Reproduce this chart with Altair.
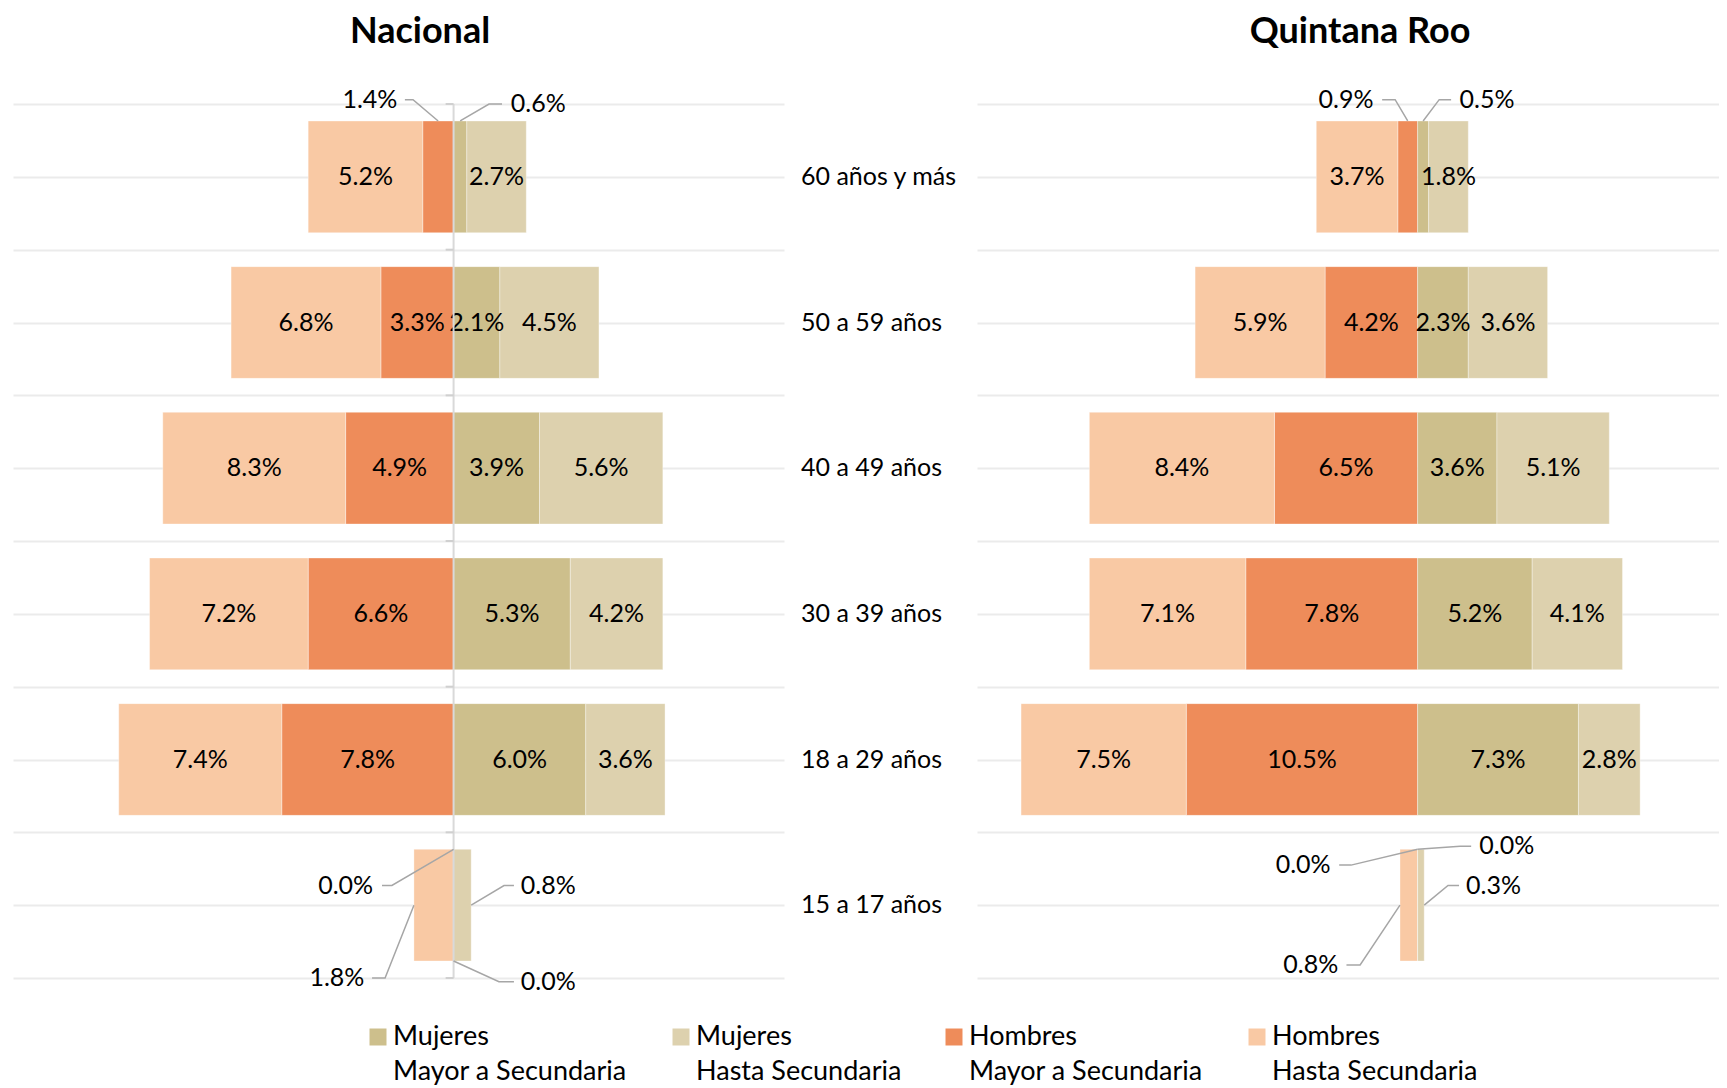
import altair as alt
import pandas as pd

FONT = "Lato"
FS = 25
LFS = 27

ages = ["60 años y más", "50 a 59 años", "40 a 49 años", "30 a 39 años", "18 a 29 años", "15 a 17 años"]
groups = ["Mujeres Mayor a Secundaria", "Mujeres Hasta Secundaria",
          "Hombres Mayor a Secundaria", "Hombres Hasta Secundaria"]
group_line1 = ["Mujeres", "Mujeres", "Hombres", "Hombres"]
group_line2 = ["Mayor a Secundaria", "Hasta Secundaria", "Mayor a Secundaria", "Hasta Secundaria"]
colors = ["#CDBF8C", "#DDD1AE", "#EE8C5A", "#F9C9A4"]

# Nacional (% of population)
nac_h_hasta = [5.2, 6.8, 8.3, 7.2, 7.4, 1.8]
nac_h_mayor = [1.4, 3.3, 4.9, 6.6, 7.8, 0.0]
nac_m_mayor = [0.6, 2.1, 3.9, 5.3, 6.0, 0.0]
nac_m_hasta = [2.7, 4.5, 5.6, 4.2, 3.6, 0.8]

# Quintana Roo (% of population)
qr_h_hasta = [3.7, 5.9, 8.4, 7.1, 7.5, 0.8]
qr_h_mayor = [0.9, 4.2, 6.5, 7.8, 10.5, 0.0]
qr_m_mayor = [0.5, 2.3, 3.6, 5.2, 7.3, 0.0]
qr_m_hasta = [1.8, 3.6, 5.1, 4.1, 2.8, 0.3]

GK = {"HH": "Hombres Hasta Secundaria", "HM": "Hombres Mayor a Secundaria",
      "MM": "Mujeres Mayor a Secundaria", "MH": "Mujeres Hasta Secundaria"}

# leader-label layout: (age index, group, anchor, elbow x, elbow/label y, end x, label x, align)
nac_leaders = [
    (0, "HM", "top", -1.84, -0.03, -2.21, -2.55, "right"),
    (0, "MM", "top", 1.61, 0.0, 2.2, 2.6, "left"),
    (5, "HM", "top", -2.8, 5.365, -3.25, -3.65, "right"),
    (5, "HH", "outer", -3.11, 6.0, -3.7, -4.05, "right"),
    (5, "MH", "outer", 2.29, 5.365, 2.74, 3.05, "left"),
    (5, "MM", "bottom", 2.06, 6.025, 2.74, 3.05, "left"),
]
qr_leaders = [
    (0, "HM", "top", -1.02, -0.03, -1.61, -2.0, "right"),
    (0, "MM", "top", 0.98, -0.03, 1.52, 1.9, "left"),
    (5, "HM", "top", -3.02, 5.225, -3.56, -3.95, "right"),
    (5, "MM", "top", 1.93, 5.095, 2.43, 2.8, "left"),
    (5, "MH", "outer", 1.38, 5.365, 1.88, 2.2, "left"),
    (5, "HH", "outer", -2.61, 5.91, -3.23, -3.6, "right"),
]

HALF = 0.3835
grid_vals = [i / 2 for i in range(13)]


def bar_table(h_hasta, h_mayor, m_mayor, m_hasta):
    rows = []
    for i, age in enumerate(ages):
        segs = [
            (GK["HM"], h_mayor[i], -h_mayor[i], 0.0),
            (GK["HH"], h_hasta[i], -(h_mayor[i] + h_hasta[i]), -h_mayor[i]),
            (GK["MM"], m_mayor[i], 0.0, m_mayor[i]),
            (GK["MH"], m_hasta[i], m_mayor[i], m_mayor[i] + m_hasta[i]),
        ]
        for g, v, a, b in segs:
            rows.append(dict(age=age, idx=i, group=g, value=v, x0=a, x1=b,
                             mid=(a + b) / 2, y0=i + 0.5 - HALF, y1=i + 0.5 + HALF,
                             yc=i + 0.5, label=f"{v:.1f}%", inside=True))
    return pd.DataFrame(rows)


def leader_tables(bars, specs):
    line_rows, label_rows = [], []
    for k, (i, g, anchor, ex, ey, hx, lx, al) in enumerate(specs):
        mask = (bars["idx"] == i) & (bars["group"] == GK[g])
        bars.loc[mask, "inside"] = False
        r = bars[mask].iloc[0]
        if anchor == "top":
            ax, ay = r["mid"], r["y0"]
        elif anchor == "bottom":
            ax, ay = r["mid"], r["y1"]
        else:
            ax, ay = (r["x0"] if g.startswith("H") else r["x1"]), r["yc"]
        for o, (x, y) in enumerate([(ax, ay), (ex, ey), (hx, ey)]):
            line_rows.append(dict(id=k, ord=o, x=x, y=y))
        label_rows.append(dict(x=lx, y=ey, label=r["label"], align=al))
    return pd.DataFrame(line_rows), pd.DataFrame(label_rows)


color_scale = alt.Scale(domain=groups, range=colors)
ys = alt.Scale(domain=[0, 6], reverse=True, nice=False, zero=False)


def panel(bars, lines, labels, xmax, width, title, title_dx, zero_axis):
    xs = alt.Scale(domain=[-20, xmax], nice=False, zero=False)
    base = alt.Chart(bars)
    bar = base.mark_bar(stroke="white", strokeWidth=1, strokeOpacity=0.35).encode(
        x=alt.X("x0:Q", scale=xs, axis=None),
        x2="x1:Q",
        y=alt.Y("y0:Q", scale=ys,
                axis=alt.Axis(values=grid_vals, grid=True, labels=False, ticks=False,
                              domain=False, title=None, gridColor="#ebebeb", gridWidth=2)),
        y2="y1:Q",
        color=alt.Color("group:N", scale=color_scale, legend=None),
    )
    inside = base.transform_filter("datum.inside").mark_text(
        font=FONT, fontSize=FS, color="black", baseline="middle").encode(
        x=alt.X("mid:Q", scale=xs), y=alt.Y("yc:Q", scale=ys), text="label:N")
    layers = [bar, inside]
    if zero_axis:
        zl = alt.Chart(pd.DataFrame({"a": [0], "b": [6]})).mark_rule(
            color="#d9d9d9", strokeWidth=2).encode(
            x=alt.datum(0), y=alt.Y("a:Q", scale=ys), y2="b:Q")
        tk = alt.Chart(pd.DataFrame({"b": list(range(7))})).mark_rule(
            color="#d0d0d0", strokeWidth=2).encode(
            x=alt.datum(-0.36), x2=alt.datum(0), y=alt.Y("b:Q", scale=ys))
        layers += [zl, tk]
    ll = alt.Chart(lines).mark_line(color="#a6a6a6", strokeWidth=1.5).encode(
        x=alt.X("x:Q", scale=xs), y=alt.Y("y:Q", scale=ys),
        detail="id:N", order="ord:Q")
    layers.append(ll)
    for al in ["left", "right"]:
        layers.append(alt.Chart(labels).transform_filter(f"datum.align == '{al}'").mark_text(
            font=FONT, fontSize=FS, color="black", align=al, baseline="middle").encode(
            x=alt.X("x:Q", scale=xs), y=alt.Y("y:Q", scale=ys), text="label:N"))
    return alt.layer(*layers).properties(
        width=width, height=874,
        title=alt.Title(title, font=FONT, fontSize=36, fontWeight="bold", color="black",
                        anchor="middle", dx=title_dx, offset=37))


nac_bars = bar_table(nac_h_hasta, nac_h_mayor, nac_m_mayor, nac_m_hasta)
nac_lines, nac_labels = leader_tables(nac_bars, nac_leaders)
qr_bars = bar_table(qr_h_hasta, qr_h_mayor, qr_m_mayor, qr_m_hasta)
qr_lines, qr_labels = leader_tables(qr_bars, qr_leaders)

left = panel(nac_bars, nac_lines, nac_labels, 15, 771, "Nacional", 21.5, True)
right = panel(qr_bars, qr_lines, qr_labels, 13.68, 742, "Quintana Roo", 12, False)

mid = alt.Chart(pd.DataFrame({"age": ages, "yc": [i + 0.5 for i in range(len(ages))]})).mark_text(
    align="left", baseline="middle", font=FONT, fontSize=FS, color="black").encode(
    x=alt.value(17), y=alt.Y("yc:Q", scale=ys, axis=None), text="age:N"
).properties(width=193, height=874)

top = alt.hconcat(left, mid, right, spacing=0).resolve_scale(x="independent", y="independent")

# legend entries are spaced by the length of their longer label line
leg_pos = [0]
for t in group_line2[:-1]:
    leg_pos.append(leg_pos[-1] + len(t) * 15 + 33)
leg_df = pd.DataFrame({"group": groups, "l1": group_line1, "l2": group_line2, "pos": leg_pos})
lx = alt.X("pos:Q", scale=alt.Scale(domain=[-365, 1341], nice=False, zero=False), axis=None)
leg_sw = alt.Chart(leg_df).mark_square(size=289, opacity=1).encode(
    x=lx, y=alt.value(30), color=alt.Color("group:N", scale=color_scale, legend=None))
leg_t1 = alt.Chart(leg_df).mark_text(align="left", baseline="middle", dx=15, font=FONT,
                                     fontSize=LFS, color="black").encode(
    x=lx, y=alt.value(30), text="l1:N")
leg_t2 = alt.Chart(leg_df).mark_text(align="left", baseline="middle", dx=15, font=FONT,
                                     fontSize=LFS, color="black").encode(
    x=lx, y=alt.value(65), text="l2:N")
legend = alt.layer(leg_sw, leg_t1, leg_t2).properties(width=1706, height=78)

chart = alt.vconcat(top, legend, spacing=12).properties(
    padding={"left": 5, "top": 5, "right": 0, "bottom": 0}
).configure_view(stroke=None)

chart.save("out.html", embed_options={"renderer": "svg", "actions": False})
